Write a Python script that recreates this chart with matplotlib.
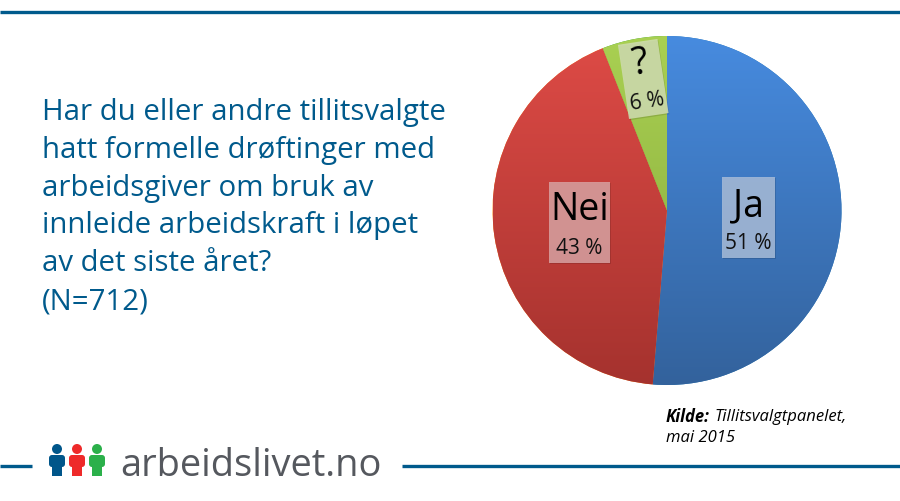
import numpy as np
from matplotlib import pyplot as plt
from matplotlib.colors import LinearSegmentedColormap
from matplotlib.patches import Circle, FancyBboxPatch, Rectangle

plt.rcParams['font.family'] = ['Open Sans', 'DejaVu Sans']

# chart data
labels = ['Ja', 'Nei', '?']
values = [51.3, 42.7, 6.0]
value_labels = ['51 %', '43 %', '6 %']
top_colors = ['#478BDF', '#DE4B46', '#A9D052']
bottom_colors = ['#33629C', '#A5322E', '#86A83A']

question = ['Har du eller andre tillitsvalgte',
            'hatt formelle drøftinger med',
            'arbeidsgiver om bruk av',
            'innleide arbeidskraft i løpet',
            'av det siste året?',
            '(N=712)']
site_name = 'arbeidslivet.no'
person_colors = ['#00568A', '#EE2A2A', '#2BB04A']

navy = '#005A8C'
H = 501


def y_(py):
    # picture rows run downward, the axes run upward
    return H - py


fig = plt.figure(figsize=(9, 5.01), dpi=100)
ax = fig.add_axes([0, 0, 1, 1])

# pie, clockwise from 12 o'clock
cx, cy, r = 667, y_(210.5), 174.5
wedges, _ = ax.pie(values, startangle=90, counterclock=False, center=(cx, cy), radius=r,
                   frame=True, wedgeprops={'linewidth': 0})

# vertical shading inside each slice
for wedge, c0, c1 in zip(wedges, top_colors, bottom_colors):
    cmap = LinearSegmentedColormap.from_list('shade', [c0, c1])
    grad = np.linspace(0, 1, 256).reshape(-1, 1)
    im = ax.imshow(grad, cmap=cmap, extent=(cx - r, cx + r, cy - r, cy + r), origin='upper',
                   aspect='auto', zorder=2)
    im.set_clip_path(wedge)
    wedge.set_zorder(1)

# label boxes on the slices: left, bottom, width, height, angle
boxes = [(722, 258, 53, 81, 0), (549, 263, 61, 81, 0), (629, 119, 40, 75, 8.5)]
box_colors = ['#A9BDD9', '#D9A3A3', '#D0DDB2']
name_pos = [(748, 206), (579.5, 210), (639.5, 64)]
val_pos = [(748, 243), (579, 248), (647, 102)]
angles = [0, 0, 8.5]
for i in range(3):
    x0, bottom, w, h, ang = boxes[i]
    # faint shadow below the box
    ax.add_patch(Rectangle((x0 + 0.8, y_(bottom + 1.2)), w, h, angle=ang, fc='black', ec='none', alpha=0.12, zorder=3))
    ax.add_patch(Rectangle((x0, y_(bottom)), w, h, angle=ang, fc=box_colors[i], ec='none', alpha=0.85, zorder=3))
    ax.text(name_pos[i][0], y_(name_pos[i][1]), labels[i], fontsize=27, ha='center', va='center',
            color='black', zorder=4, rotation=angles[i])
    ax.text(val_pos[i][0], y_(val_pos[i][1]), value_labels[i], fontsize=15, ha='center', va='center',
            color='#111111', zorder=4, rotation=angles[i])

# question on the left
for i, line in enumerate(question):
    ax.text(42, y_(120 + i * 37.8), line, fontsize=21.2, color=navy, ha='left', va='baseline')

# source note
ax.text(666, y_(417), 'Kilde:', fontsize=12, style='italic', weight='bold', color='black', ha='left', va='center')
ax.text(714, y_(417), 'Tillitsvalgtpanelet,', fontsize=12, style='italic', color='black', ha='left', va='center')
ax.text(666, y_(438), 'mai 2015', fontsize=12, style='italic', color='black', ha='left', va='center')

# rules
ax.plot([0, 900], [y_(12), y_(12)], color=navy, lw=2.4, solid_capstyle='butt')
ax.plot([0, 32], [y_(465.5), y_(465.5)], color=navy, lw=2.4, solid_capstyle='butt')
ax.plot([402, 900], [y_(465.5), y_(465.5)], color=navy, lw=2.4, solid_capstyle='butt')

# logo people
for px, col in zip([57, 77, 97], person_colors):
    ax.add_patch(Circle((px, y_(449)), 5, fc=col, ec='none'))
    ax.add_patch(FancyBboxPatch((px - 8, y_(467)), 16, 12, boxstyle='round,pad=0,rounding_size=3',
                                fc=col, ec='none'))
    ax.add_patch(Rectangle((px - 4.7, y_(476)), 9.4, 12, fc=col, ec='none'))

ax.text(120, y_(476), site_name, fontsize=27.4, color='#55585E', ha='left', va='baseline')

ax.set_xlim(0, 900)
ax.set_ylim(0, H)
ax.set_aspect('auto')
ax.axis('off')
fig.savefig('out.png', dpi=100, facecolor='white')
